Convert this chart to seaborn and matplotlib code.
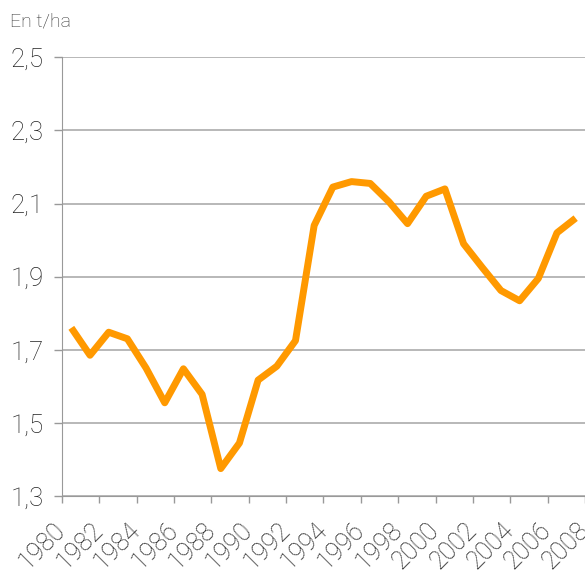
import numpy as np
import pandas as pd
import matplotlib
matplotlib.use('Agg')
import matplotlib.pyplot as plt
import matplotlib.transforms as mtransforms
import seaborn as sns

# Rendement, en t/ha
years = list(range(1980, 2008))
values = [1.76, 1.685, 1.748, 1.73, 1.65, 1.555, 1.648, 1.578, 1.375, 1.445,
          1.617, 1.655, 1.725, 2.04, 2.145, 2.16, 2.155, 2.105, 2.045, 2.12,
          2.14, 1.99, 1.925, 1.862, 1.834, 1.895, 2.02, 2.06]

y_ticks = [1.3, 1.5, 1.7, 1.9, 2.1, 2.3, 2.5]
y_labels = ['1,3', '1,5', '1,7', '1,9', '2,1', '2,3', '2,5']
x_labels = [str(y) for y in range(1980, 2010, 2)]

df = pd.DataFrame({'annee': years, 'rendement': values})

sns.set_style('white')
plt.rcParams['font.family'] = ['Roboto', 'DejaVu Sans']

fig = plt.figure(figsize=(5.85, 5.72), dpi=100)
ax = fig.add_axes([62 / 585, 76 / 572, 523 / 585, 438.7 / 572])

sns.lineplot(data=df, x='annee', y='rendement', color='#FF9900', linewidth=5,
             solid_joinstyle='round', solid_capstyle='butt', ax=ax, zorder=3)

ax.set_ylim(1.3, 2.5)
ax.set_xlim(1979.5, 1979.5 + 523 / 19.58)
ax.set_yticks(y_ticks)
ax.set_yticklabels(y_labels, fontsize=18.5, fontweight='light', color='#222222')
ax.set_xticks([y - 0.5 for y in range(1980, 2010, 2)])
ax.set_xticklabels(x_labels, fontsize=18, fontweight='light', color='#222222',
                   rotation=45, ha='right', va='center', rotation_mode='anchor')
# petit decalage a gauche des etiquettes
shift = mtransforms.ScaledTranslation(-4 / 100, 0, fig.dpi_scale_trans)
for lab in ax.get_xticklabels():
    lab.set_transform(lab.get_transform() + shift)

ax.grid(axis='y', color='#ababab', linewidth=1.2)
ax.grid(axis='x', visible=False)
ax.tick_params(axis='y', length=6, width=1, color='#999999', pad=7, left=True)
ax.tick_params(axis='x', length=5, width=1, color='#999999', pad=17, bottom=True)
for s in ['top', 'right']:
    ax.spines[s].set_visible(False)
ax.spines['left'].set_color('#999999')
ax.spines['bottom'].set_color('#999999')
ax.set_xlabel('')
ax.set_ylabel('')

fig.text(10 / 585, 1 - 22 / 572, 'En t/ha', fontsize=14, fontweight='light',
         color='#333333', va='center', ha='left')

plt.savefig('out.png', dpi=100)
